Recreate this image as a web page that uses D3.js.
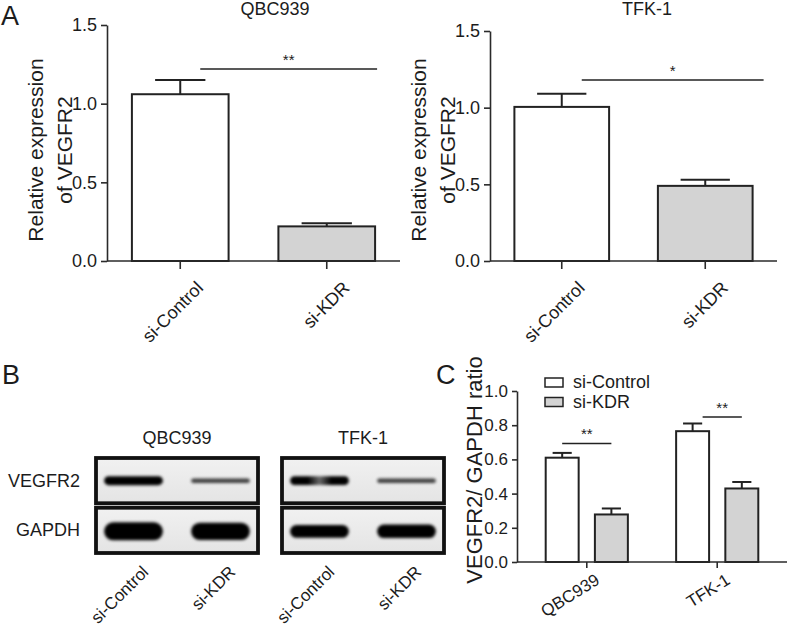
<!DOCTYPE html>
<html>
<head>
<meta charset="utf-8">
<title>VEGFR2 knockdown in QBC939 and TFK-1</title>
<script src="https://cdn.jsdelivr.net/npm/d3@7"></script>
<style>
  body { margin: 0; background: #fff; }
  svg text { font-family: "Liberation Sans", Arial, sans-serif; fill: #1c1c1c; }
  .axis path, .axis line { stroke: #2a2a2a; stroke-width: 1.6px; }
  .axis text { font-family: "Liberation Sans", Arial, sans-serif; fill: #1c1c1c; }
</style>
</head>
<body>
<script>
// ---- panel A: relative VEGFR2 expression ----
var groups = ["si-Control", "si-KDR"];
var qbcMean = [1.06, 0.22];
var qbcErr = [0.09, 0.02];
var tfkMean = [1.005, 0.49];
var tfkErr = [0.085, 0.04];
var yTicksA = [0, 0.5, 1.0, 1.5];
var sigA = [1.22, 1.18];
var starsA = ["**", "*"];

// ---- panel B: western blot band strength (0-1) ----
var blotLines = ["QBC939", "TFK-1"];
var proteins = ["VEGFR2", "GAPDH"];
var qbcVegfr2Band = [1.0, 0.5];
var qbcGapdhBand = [1.0, 0.95];
var tfkVegfr2Band = [0.95, 0.5];
var tfkGapdhBand = [0.72, 0.75];

// ---- panel C: VEGFR2/GAPDH ratio ----
var cellLines = ["QBC939", "TFK-1"];
var ctrlRatio = [0.61, 0.765];
var ctrlErr = [0.028, 0.045];
var kdrRatio = [0.278, 0.43];
var kdrErr = [0.035, 0.038];
var yTicksC = [0, 0.2, 0.4, 0.6, 0.8, 1.0];
var sigC = [0.693, 0.848];
var starsC = ["**", "**"];

var fills = ["#ffffff", "#d3d3d3"];

var svg = d3.select("body").append("svg")
    .attr("width", 787).attr("height", 630);
svg.append("rect").attr("width", 787).attr("height", 630).attr("fill", "#fff");

var defs = svg.append("defs");
defs.append("filter").attr("id", "blur")
    .attr("x", "-20%").attr("y", "-80%").attr("width", "140%").attr("height", "260%")
  .append("feGaussianBlur").attr("stdDeviation", 1.8);

function panelLetter(txt, x, y) {
  svg.append("text").attr("x", x).attr("y", y)
    .style("font-size", "27px").text(txt);
}

// error bar (upward only, GraphPad style)
function errBar(g, cx, yTop, yErr, capW) {
  g.append("line").attr("x1", cx).attr("x2", cx).attr("y1", yTop).attr("y2", yErr)
    .attr("stroke", "#222").attr("stroke-width", 2);
  g.append("line").attr("x1", cx - capW / 2).attr("x2", cx + capW / 2).attr("y1", yErr).attr("y2", yErr)
    .attr("stroke", "#222").attr("stroke-width", 2);
}

// ---------- Panel A ----------
function barPanel(o) {
  var g = svg.append("g");
  var x = d3.scaleBand().domain(groups).range([o.x0, o.x1]).paddingInner(0.34).paddingOuter(0.17);
  var y = d3.scaleLinear().domain([0, 1.5]).range([261, o.yTop]);
  var bw = x.bandwidth();

  g.selectAll("rect.bar").data(o.mean).join("rect").attr("class", "bar")
    .attr("x", function(d, i) { return x(groups[i]); })
    .attr("y", function(d) { return y(d); })
    .attr("width", bw)
    .attr("height", function(d) { return y(0) - y(d); })
    .attr("fill", function(d, i) { return fills[i]; })
    .attr("stroke", "#222").attr("stroke-width", 2);

  o.mean.forEach(function(m, i) {
    errBar(g, x(groups[i]) + bw / 2, y(m), y(m + o.err[i]), bw * 0.52);
  });

  var ya = d3.axisLeft(y).tickValues(yTicksA).tickFormat(d3.format(".1f")).tickSize(6).tickSizeOuter(0);
  g.append("g").attr("class", "axis").attr("transform", "translate(" + o.x0 + ",0)").call(ya)
    .selectAll("text").style("font-size", "18px").attr("dx", "-1px");

  var xa = d3.axisBottom(x).tickSize(8).tickSizeOuter(0).tickFormat("");
  var xg = g.append("g").attr("class", "axis").attr("transform", "translate(0,261)").call(xa);
  xg.select("path").attr("d", "M" + o.x0 + ",0H" + o.x1);

  g.selectAll("text.xl").data(groups).join("text").attr("class", "xl")
    .attr("transform", function(d) { return "translate(" + (x(d) + bw / 2 + 24) + ",289) rotate(-45)"; })
    .attr("text-anchor", "end").style("font-size", "18px").text(function(d) { return d; });

  // y title, two lines
  var ty = g.append("text").attr("transform", "translate(" + (o.x0 - 64) + ",150) rotate(-90)")
    .attr("text-anchor", "middle").style("font-size", "21px");
  ty.append("tspan").attr("x", 0).attr("y", 0).text("Relative expression");
  ty.append("tspan").attr("x", 0).attr("y", 29).text("of VEGFR2");

  g.append("text").attr("x", o.titleX).attr("y", 15).attr("text-anchor", "middle")
    .style("font-size", "18px").text(o.title);

  // significance
  var sx1 = x(groups[0]) + bw / 2 + 20, sx2 = x(groups[1]) + bw + o.sigPad;
  g.append("line").attr("x1", sx1).attr("x2", sx2).attr("y1", y(o.sig)).attr("y2", y(o.sig))
    .attr("stroke", "#222").attr("stroke-width", 1.6);
  g.append("text").attr("x", (sx1 + sx2) / 2).attr("y", y(o.sig) - 4).attr("text-anchor", "middle")
    .style("font-size", "15px").text(o.stars);
}

barPanel({ x0: 107, x1: 400, yTop: 25, mean: qbcMean, err: qbcErr, title: "QBC939", titleX: 275,
           sig: sigA[0], stars: starsA[0], sigPad: 2 });
barPanel({ x0: 490, x1: 777, yTop: 31, mean: tfkMean, err: tfkErr, title: "TFK-1", titleX: 647,
           sig: sigA[1], stars: starsA[1], sigPad: 11 });
panelLetter("A", 1, 25);

// ---------- Panel B ----------
panelLetter("B", 2, 384);
var boxX = d3.scaleBand().domain(blotLines).range([96, 444]).paddingInner(0.129);
var rowY = d3.scaleBand().domain(proteins).range([458, 553]).paddingInner(0.09);
var lane = d3.scaleBand().domain(groups).range([0, boxX.bandwidth()]).paddingInner(0.25).paddingOuter(0.056);
var bandSets = {
  "QBC939": { "VEGFR2": qbcVegfr2Band, "GAPDH": qbcGapdhBand },
  "TFK-1": { "VEGFR2": tfkVegfr2Band, "GAPDH": tfkGapdhBand }
};
var rowThick = { "VEGFR2": 9, "GAPDH": 18 };

// TFK-1 VEGFR2 control lane looks like a doublet
var dbl = defs.append("linearGradient").attr("id", "doublet");
[[0, 1], [0.3, 1], [0.5, 0.55], [0.7, 1], [1, 1]].forEach(function(s) {
  dbl.append("stop").attr("offset", s[0]).attr("stop-color", "#000").attr("stop-opacity", s[1]);
});
var bg = defs.append("linearGradient").attr("id", "blotbg").attr("x1", 0).attr("x2", 0).attr("y1", 0).attr("y2", 1);
bg.append("stop").attr("offset", 0).attr("stop-color", "#f1f1f1");
bg.append("stop").attr("offset", 1).attr("stop-color", "#e4e4e4");

blotLines.forEach(function(cl) {
  var bx = boxX(cl);
  svg.append("text").attr("x", bx + boxX.bandwidth() / 2).attr("y", 444).attr("text-anchor", "middle")
    .style("font-size", "18px").text(cl);
  proteins.forEach(function(p) {
    var by = rowY(p), bh = rowY.bandwidth();
    svg.append("rect").attr("x", bx).attr("y", by).attr("width", boxX.bandwidth()).attr("height", bh)
      .attr("fill", "url(#blotbg)");
    var cy = by + bh / 2 + (p === "GAPDH" ? 1 : 0);
    bandSets[cl][p].forEach(function(v, i) {
      var lx = bx + lane(groups[i]);
      var w = lane.bandwidth() * 0.9;
      var h = Math.max(3, rowThick[p] * v);
      svg.append("rect")
        .attr("x", lx + (lane.bandwidth() - w) / 2).attr("y", cy - h / 2)
        .attr("width", w).attr("height", h).attr("rx", h / 2)
        .attr("fill", (cl === "TFK-1" && p === "VEGFR2" && i === 0) ? "url(#doublet)" : "#000")
        .attr("opacity", Math.min(1, v * 1.45))
        .attr("filter", "url(#blur)");
    });
    svg.append("rect").attr("x", bx).attr("y", by).attr("width", boxX.bandwidth()).attr("height", bh)
      .attr("fill", "none").attr("stroke", "#111").attr("stroke-width", 3.8);
  });
  groups.forEach(function(gr) {
    svg.append("text")
      .attr("transform", "translate(" + (bx + lane(gr) + lane.bandwidth() / 2 + 16) + ",573) rotate(-45)")
      .attr("text-anchor", "end").style("font-size", "17px").text(gr);
  });
});
proteins.forEach(function(p) {
  svg.append("text").attr("x", 80).attr("y", rowY(p) + rowY.bandwidth() / 2 + 6)
    .attr("text-anchor", "end").style("font-size", "18px").text(p);
});

// ---------- Panel C ----------
panelLetter("C", 436, 384);
var gC = svg.append("g");
var x0 = d3.scaleBand().domain(cellLines).range([517, 787]).paddingInner(0.37).paddingOuter(0.22);
var x1 = d3.scaleBand().domain(groups).range([0, x0.bandwidth()]).paddingInner(0.33);
var yC = d3.scaleLinear().domain([0, 1]).range([562, 391]);
var seriesC = [{ name: groups[0], v: ctrlRatio, e: ctrlErr }, { name: groups[1], v: kdrRatio, e: kdrErr }];

seriesC.forEach(function(s, si) {
  cellLines.forEach(function(cl, ci) {
    var bx = x0(cl) + x1(s.name);
    gC.append("rect").attr("x", bx).attr("y", yC(s.v[ci])).attr("width", x1.bandwidth())
      .attr("height", yC(0) - yC(s.v[ci])).attr("fill", fills[si])
      .attr("stroke", "#222").attr("stroke-width", 2);
    errBar(gC, bx + x1.bandwidth() / 2, yC(s.v[ci]), yC(s.v[ci] + s.e[ci]), x1.bandwidth() * 0.58);
  });
});

gC.append("g").attr("class", "axis").attr("transform", "translate(517,0)")
  .call(d3.axisLeft(yC).tickValues(yTicksC).tickFormat(d3.format(".1f")).tickSize(5).tickSizeOuter(0))
  .selectAll("text").style("font-size", "17px").attr("dx", "-1px");
var xgC = gC.append("g").attr("class", "axis").attr("transform", "translate(0,562)")
  .call(d3.axisBottom(x0).tickSize(6).tickSizeOuter(0).tickFormat(""));
xgC.select("path").attr("d", "M517,0H787");

gC.selectAll("text.xl").data(cellLines).join("text").attr("class", "xl")
  .attr("transform", function(d) { return "translate(" + (x0(d) + x0.bandwidth() / 2 + 14) + ",583) rotate(-32)"; })
  .attr("text-anchor", "end").style("font-size", "17px").text(function(d) { return d; });

gC.append("text").attr("transform", "translate(482,470) rotate(-90)").attr("text-anchor", "middle")
  .style("font-size", "22px").text("VEGFR2/ GAPDH ratio");

cellLines.forEach(function(cl, ci) {
  var a = x0(cl) + x1(groups[0]) + x1.bandwidth() / 2;
  var b = x0(cl) + x1(groups[1]) + x1.bandwidth() / 2;
  if (ci === 1) a += 10;
  gC.append("line").attr("x1", a).attr("x2", b).attr("y1", yC(sigC[ci])).attr("y2", yC(sigC[ci]))
    .attr("stroke", "#222").attr("stroke-width", 1.6);
  gC.append("text").attr("x", (a + b) / 2).attr("y", yC(sigC[ci]) - 4).attr("text-anchor", "middle")
    .style("font-size", "15px").text(starsC[ci]);
});

// legend
var leg = gC.selectAll("g.leg").data(groups).join("g").attr("class", "leg")
  .attr("transform", function(d, i) { return "translate(545," + (378 + i * 19.5) + ")"; });
leg.append("rect").attr("width", 18).attr("height", 9)
  .attr("fill", function(d, i) { return fills[i]; }).attr("stroke", "#222").attr("stroke-width", 1.5);
leg.append("text").attr("x", 28).attr("y", 10).style("font-size", "18px").text(function(d) { return d; });
</script>
</body>
</html>
